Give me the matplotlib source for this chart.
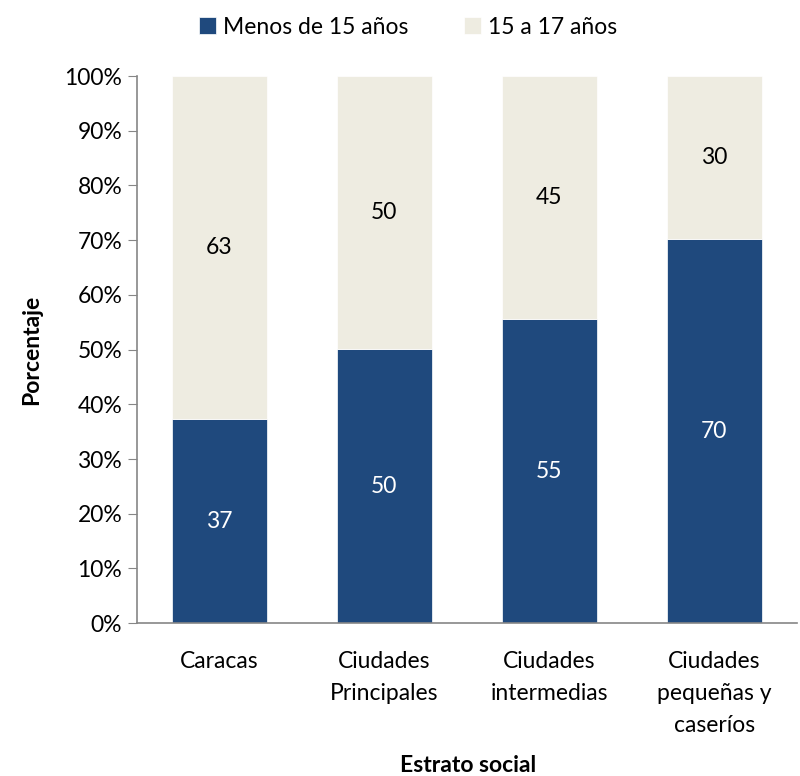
import numpy as np
import matplotlib.pyplot as plt

plt.rcParams['font.family'] = ['Lato', 'DejaVu Sans']

# Datos
estratos = ['Caracas', 'Ciudades\nPrincipales', 'Ciudades\nintermedias', 'Ciudades\npequeñas y\ncaseríos']
menos_15 = [37.3, 50.1, 55.5, 70.2]
de_15_17 = [62.7, 49.9, 44.5, 29.8]
etiq_menos = ['37', '50', '55', '70']
etiq_15_17 = ['63', '50', '45', '30']

azul = '#1F497D'
beige = '#EEECE1'
fs = 16.5

fig = plt.figure(figsize=(8, 7.76), dpi=100)
ax = fig.add_axes([0.171, 0.197, 0.825, 0.705])

x = np.arange(len(estratos))
b1 = ax.bar(x, menos_15, width=0.575, color=azul, edgecolor='white', linewidth=0.5,
            label='Menos de 15 años')
b2 = ax.bar(x, de_15_17, width=0.575, bottom=menos_15, color=beige, edgecolor='white',
            linewidth=0.5, label='15 a 17 años')

ax.bar_label(b1, labels=etiq_menos, label_type='center', color='white', fontsize=fs)
ax.bar_label(b2, labels=etiq_15_17, label_type='center', color='black', fontsize=fs)

ax.set_xlim(-0.5, len(estratos) - 0.5)
ax.set_ylim(0, 100)
ax.set_yticks(np.arange(0, 101, 10))
ax.set_yticklabels([f'{v}%' for v in range(0, 101, 10)], fontsize=fs)
ax.set_xticks(x)
ax.set_xticklabels(estratos, fontsize=fs, linespacing=1.65)
ax.tick_params(axis='x', length=0, pad=20)
ax.tick_params(axis='y', length=6.5, color='#868686', pad=4)

for s in ['top', 'right']:
    ax.spines[s].set_visible(False)
for s in ['left', 'bottom']:
    ax.spines[s].set_color('#868686')
    ax.spines[s].set_linewidth(1.2)

ax.set_ylabel('Porcentaje', fontsize=fs, fontweight='bold', labelpad=16)
fig.text(0.585, 0.0, 'Estrato social', fontsize=fs, fontweight='bold', ha='center', va='bottom')

fig.legend(loc='upper center', bbox_to_anchor=(0.51, 1.005), ncol=2, frameon=False,
           fontsize=fs, handlelength=0.75, handleheight=0.75, handletextpad=0.3,
           columnspacing=2.4)

plt.savefig('out.png', dpi=100)
